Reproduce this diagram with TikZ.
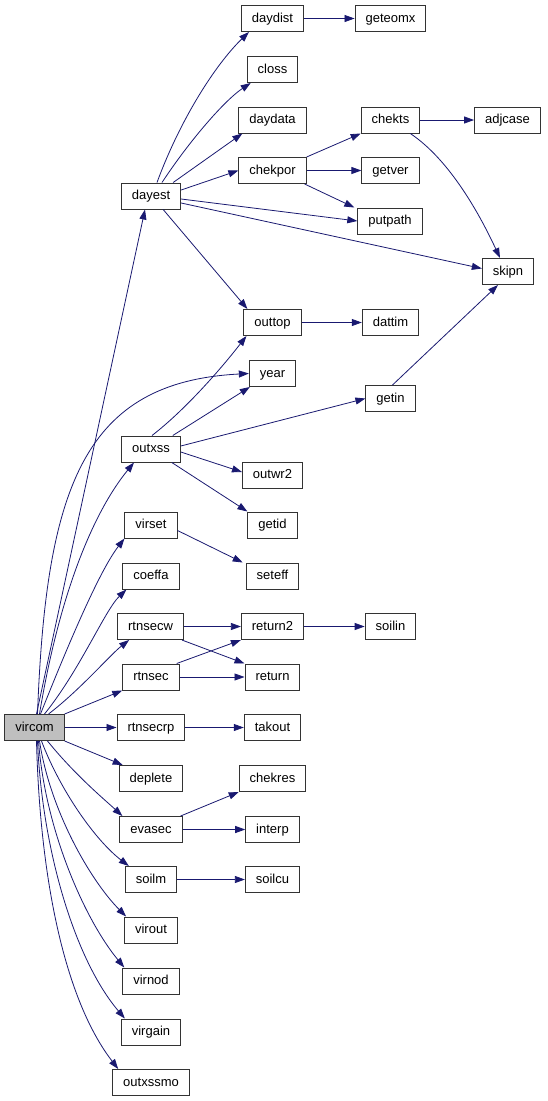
\documentclass[tikz,border=0pt]{standalone}
\usepackage{fontspec}
\setmainfont{Liberation Sans}
\usetikzlibrary{arrows.meta}
\definecolor{edgeblue}{HTML}{191970}
\definecolor{rootgray}{HTML}{BFBFBF}
\newcommand{\fnsize}{\fontsize{13}{15}\selectfont}

\begin{document}
\begin{tikzpicture}[x=1pt,y=-1pt,
  fn/.style={draw=black!80, line width=1pt, fill=white, minimum height=26pt,
    inner xsep=10.5pt, inner ysep=0pt, text height=9.5pt, text depth=2.5pt, font=\fnsize},
  root/.style={fn, fill=rootgray},
  call/.style={draw=edgeblue, line width=0.8pt, -{Triangle[length=10pt,width=7pt]}}]
\useasboundingbox (0,0) rectangle (547,1101);
% caller
\node[root] (vircom) at (34.5,727.5) {vircom};
% first level
\node[fn] (dayest) at (151,196) {dayest};
\node[fn] (outxss) at (151,449) {outxss};
\node[fn] (virset) at (151,525) {virset};
\node[fn] (coeffa) at (151,576) {coeffa};
\node[fn] (rtnsecw) at (150.5,626.5) {rtnsecw};
\node[fn] (rtnsec) at (151,677) {rtnsec};
\node[fn] (rtnsecrp) at (151,727.5) {rtnsecrp};
\node[fn] (deplete) at (151,778.5) {deplete};
\node[fn] (evasec) at (151,829.5) {evasec};
\node[fn] (soilm) at (151,879.5) {soilm};
\node[fn] (virout) at (151,930) {virout};
\node[fn] (virnod) at (151,981) {virnod};
\node[fn] (virgain) at (151,1032) {virgain};
\node[fn] (outxssmo) at (151,1082.5) {outxssmo};
% second level
\node[fn] (daydist) at (272.5,18.5) {daydist};
\node[fn] (closs) at (272.5,69.5) {closs};
\node[fn] (daydata) at (272.5,120) {daydata};
\node[fn] (chekpor) at (272.5,170.5) {chekpor};
\node[fn] (outtop) at (272.5,322.5) {outtop};
\node[fn] (year) at (272.5,373.5) {year};
\node[fn] (outwr2) at (272.5,475) {outwr2};
\node[fn] (getid) at (272.5,525) {getid};
\node[fn] (seteff) at (272.5,576) {seteff};
\node[fn] (return2) at (272.5,626.5) {return2};
\node[fn] (return) at (272.5,677) {return};
\node[fn] (takout) at (272.5,727.5) {takout};
\node[fn] (chekres) at (272.5,778.5) {chekres};
\node[fn] (interp) at (272.5,829.5) {interp};
\node[fn] (soilcu) at (272.5,879.5) {soilcu};
% third level
\node[fn] (geteomx) at (390.5,18.5) {geteomx};
\node[fn] (chekts) at (390.5,120) {chekts};
\node[fn] (getver) at (390.5,170.5) {getver};
\node[fn] (putpath) at (390,221) {putpath};
\node[fn] (dattim) at (390.5,322.5) {dattim};
\node[fn] (getin) at (390.5,398.5) {getin};
\node[fn] (soilin) at (390.5,626.5) {soilin};
% fourth level
\node[fn] (adjcase) at (507.5,120) {adjcase};
\node[fn] (skipn) at (508,271.5) {skipn};

% calls from vircom
\draw[call] ([xshift=2pt]vircom.north) -- ([xshift=-6pt]dayest.south);
\draw[call] ([xshift=3pt]vircom.north) .. controls (46,485) and (85,382) .. (year.west);
\draw[call] ([xshift=5pt]vircom.north) .. controls (60,590) and (95,510) .. ([xshift=-17pt]outxss.south);
\draw[call] ([xshift=6pt]vircom.north) .. controls (70,640) and (100,570) .. (virset.south west);
\draw[call] ([xshift=10pt]vircom.north) .. controls (80,670) and (105,610) .. ([xshift=4pt]coeffa.south west);
\draw[call] ([xshift=14pt]vircom.north) .. controls (80,690) and (110,655) .. ([xshift=12pt]rtnsecw.south west);
\draw[call] (vircom.north east) -- (rtnsec.south west);
\draw[call] (vircom) -- (rtnsecrp);
\draw[call] (vircom.south east) -- ([xshift=4pt]deplete.north west);
\draw[call] ([xshift=13pt]vircom.south) .. controls (75,775) and (105,800) .. ([xshift=3pt]evasec.north west);
\draw[call] ([xshift=7pt]vircom.south) .. controls (60,790) and (95,840) .. ([xshift=4pt]soilm.north west);
\draw[call] ([xshift=5pt]vircom.south) .. controls (50,810) and (90,880) .. ([xshift=2pt]virout.north west);
\draw[call] ([xshift=4pt]vircom.south) .. controls (45,830) and (85,920) .. ([xshift=2pt]virnod.north west);
\draw[call] ([xshift=3pt]vircom.south) .. controls (42,850) and (75,960) .. ([xshift=4pt]virgain.north west);
\draw[call] ([xshift=2pt]vircom.south) .. controls (40,880) and (65,1000) .. ([xshift=6pt]outxssmo.north west);
% calls from dayest
\draw[call] ([xshift=6pt]dayest.north) .. controls (180,120) and (215,65) .. ([xshift=8pt]daydist.south west);
\draw[call] ([xshift=11pt]dayest.north) .. controls (190,140) and (225,100) .. ([xshift=4pt]closs.south west);
\draw[call] ([xshift=-8pt]dayest.north east) -- ([xshift=4pt]daydata.south west);
\draw[call] ([yshift=6pt]dayest.east) -- (chekpor.west);
\draw[call] ([yshift=-3pt]dayest.east) -- (putpath.west);
\draw[call] ([yshift=-7pt]dayest.east) -- ([yshift=3pt]skipn.west);
\draw[call] ([xshift=-18pt]dayest.south east) -- ([xshift=4pt]outtop.north west);
\draw[call] (daydist) -- (geteomx);
% calls from chekpor and chekts
\draw[call] (chekpor.north east) -- (chekts.south west);
\draw[call] (chekpor) -- (getver);
\draw[call] ([xshift=-2pt]chekpor.south east) -- ([xshift=-3pt]putpath.north west);
\draw[call] (chekts) -- (adjcase);
\draw[call] ([xshift=-10pt]chekts.south east) .. controls (450,160) and (480,215) .. ([xshift=-8pt]skipn.north);
% calls from outxss
\draw[call] ([xshift=1pt]outxss.north) .. controls (185,410) and (220,370) .. ([xshift=3pt]outtop.south west);
\draw[call] ([xshift=-8pt]outxss.north east) -- ([xshift=1pt]year.south west);
\draw[call] ([yshift=3pt]outxss.east) -- (getin.west);
\draw[call] ([yshift=-3pt]outxss.east) -- ([yshift=3pt]outwr2.west);
\draw[call] ([xshift=-9pt]outxss.south east) -- (getid.north west);
\draw[call] (outtop) -- (dattim);
\draw[call] ([xshift=2pt]getin.north) -- ([xshift=-10pt]skipn.south);
% lower calls
\draw[call] ([yshift=8pt]virset.south east) -- ([xshift=-3pt]seteff.north west);
\draw[call] (rtnsecw) -- (return2);
\draw[call] ([xshift=-2pt]rtnsecw.south east) -- (return.north west);
\draw[call] ([xshift=-3pt]rtnsec.north east) -- (return2.south west);
\draw[call] (rtnsec) -- (return);
\draw[call] (return2) -- (soilin);
\draw[call] (rtnsecrp) -- (takout);
\draw[call] ([xshift=-2pt]evasec.north east) -- (chekres.south west);
\draw[call] (evasec) -- (interp);
\draw[call] (soilm) -- (soilcu);
\end{tikzpicture}
\end{document}
